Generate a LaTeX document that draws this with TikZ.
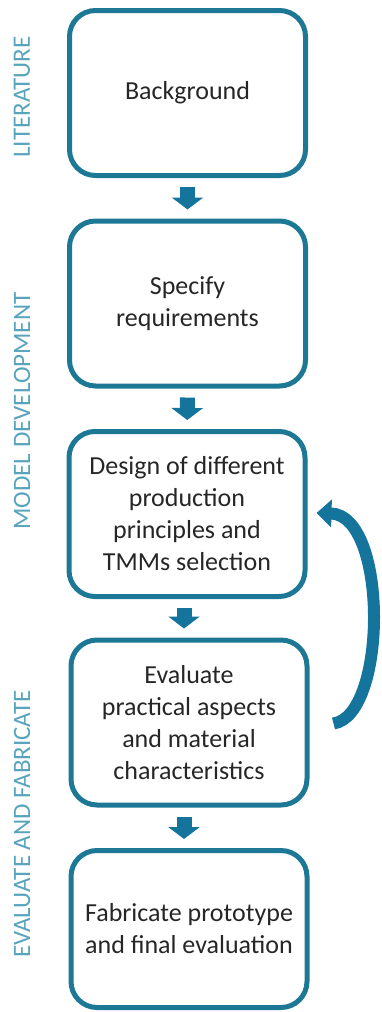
\documentclass[tikz,border=0pt]{standalone}
\usepackage{fontspec}
\setmainfont{Carlito}
\usetikzlibrary{arrows.meta}
\definecolor{boxteal}{RGB}{28,120,148}
\definecolor{arrowteal}{RGB}{20,116,156}
\definecolor{labelteal}{RGB}{88,164,188}
\definecolor{textgray}{RGB}{38,38,38}
\tikzset{
    stage/.style={draw=boxteal, line width=5pt, rounded corners=26pt,
        minimum width=236pt, minimum height=165pt, align=center,
        text=textgray, font=\fontsize{26pt}{32pt}\selectfont},
    phase/.style={rotate=90, text=labelteal, font=\fontsize{25pt}{30pt}\selectfont},
    flow/.style={draw=arrowteal, line width=15pt,
        -{Triangle[length=12pt,width=31pt]}, shorten <=9pt, shorten >=9pt},
    loopback/.style={draw=arrowteal, line width=12pt,
        -{Triangle[length=15pt,width=27pt]}}
}

\begin{document}
\begin{tikzpicture}[x=1pt,y=1pt]
\useasboundingbox (0,0) rectangle (381,-1012);

\node[stage] at (187.5,-93) (bg) {Background};
\node[stage] at (187.5,-303.5) (req) {Specify\\requirements};
\node[stage] at (187,-514) (design) {Design of different\\production\\principles and\\TMMs selection};
\node[stage] at (189,-722.5) (eval) {Evaluate\\practical aspects\\and material\\characteristics};
\node[stage, minimum height=157pt] at (189,-929) (fab) {Fabricate prototype\\and final evaluation};

\node[phase] at (22,-97) (lit) {LITERATURE};
\node[phase] at (22,-411) (model) {MODEL DEVELOPMENT};
\node[phase] at (22,-824) (evfab) {EVALUATE AND FABRICATE};

\draw[flow] (bg) -- (req);
\draw[flow] (req) -- (design);
\draw[flow] ([xshift=-3pt]design.south) -- ([xshift=-5pt]eval.north);
\draw[flow] ([xshift=-5pt]eval.south) -- ([xshift=-5pt]fab.north);

\coordinate (loopstart) at ([xshift=24pt,yshift=-1pt]eval.east);
\coordinate (looptip) at ([xshift=9pt,yshift=1pt]design.east);
\draw[loopback] (loopstart) .. controls +(54,8) and +(72,-2) .. (looptip);
\end{tikzpicture}
\end{document}
